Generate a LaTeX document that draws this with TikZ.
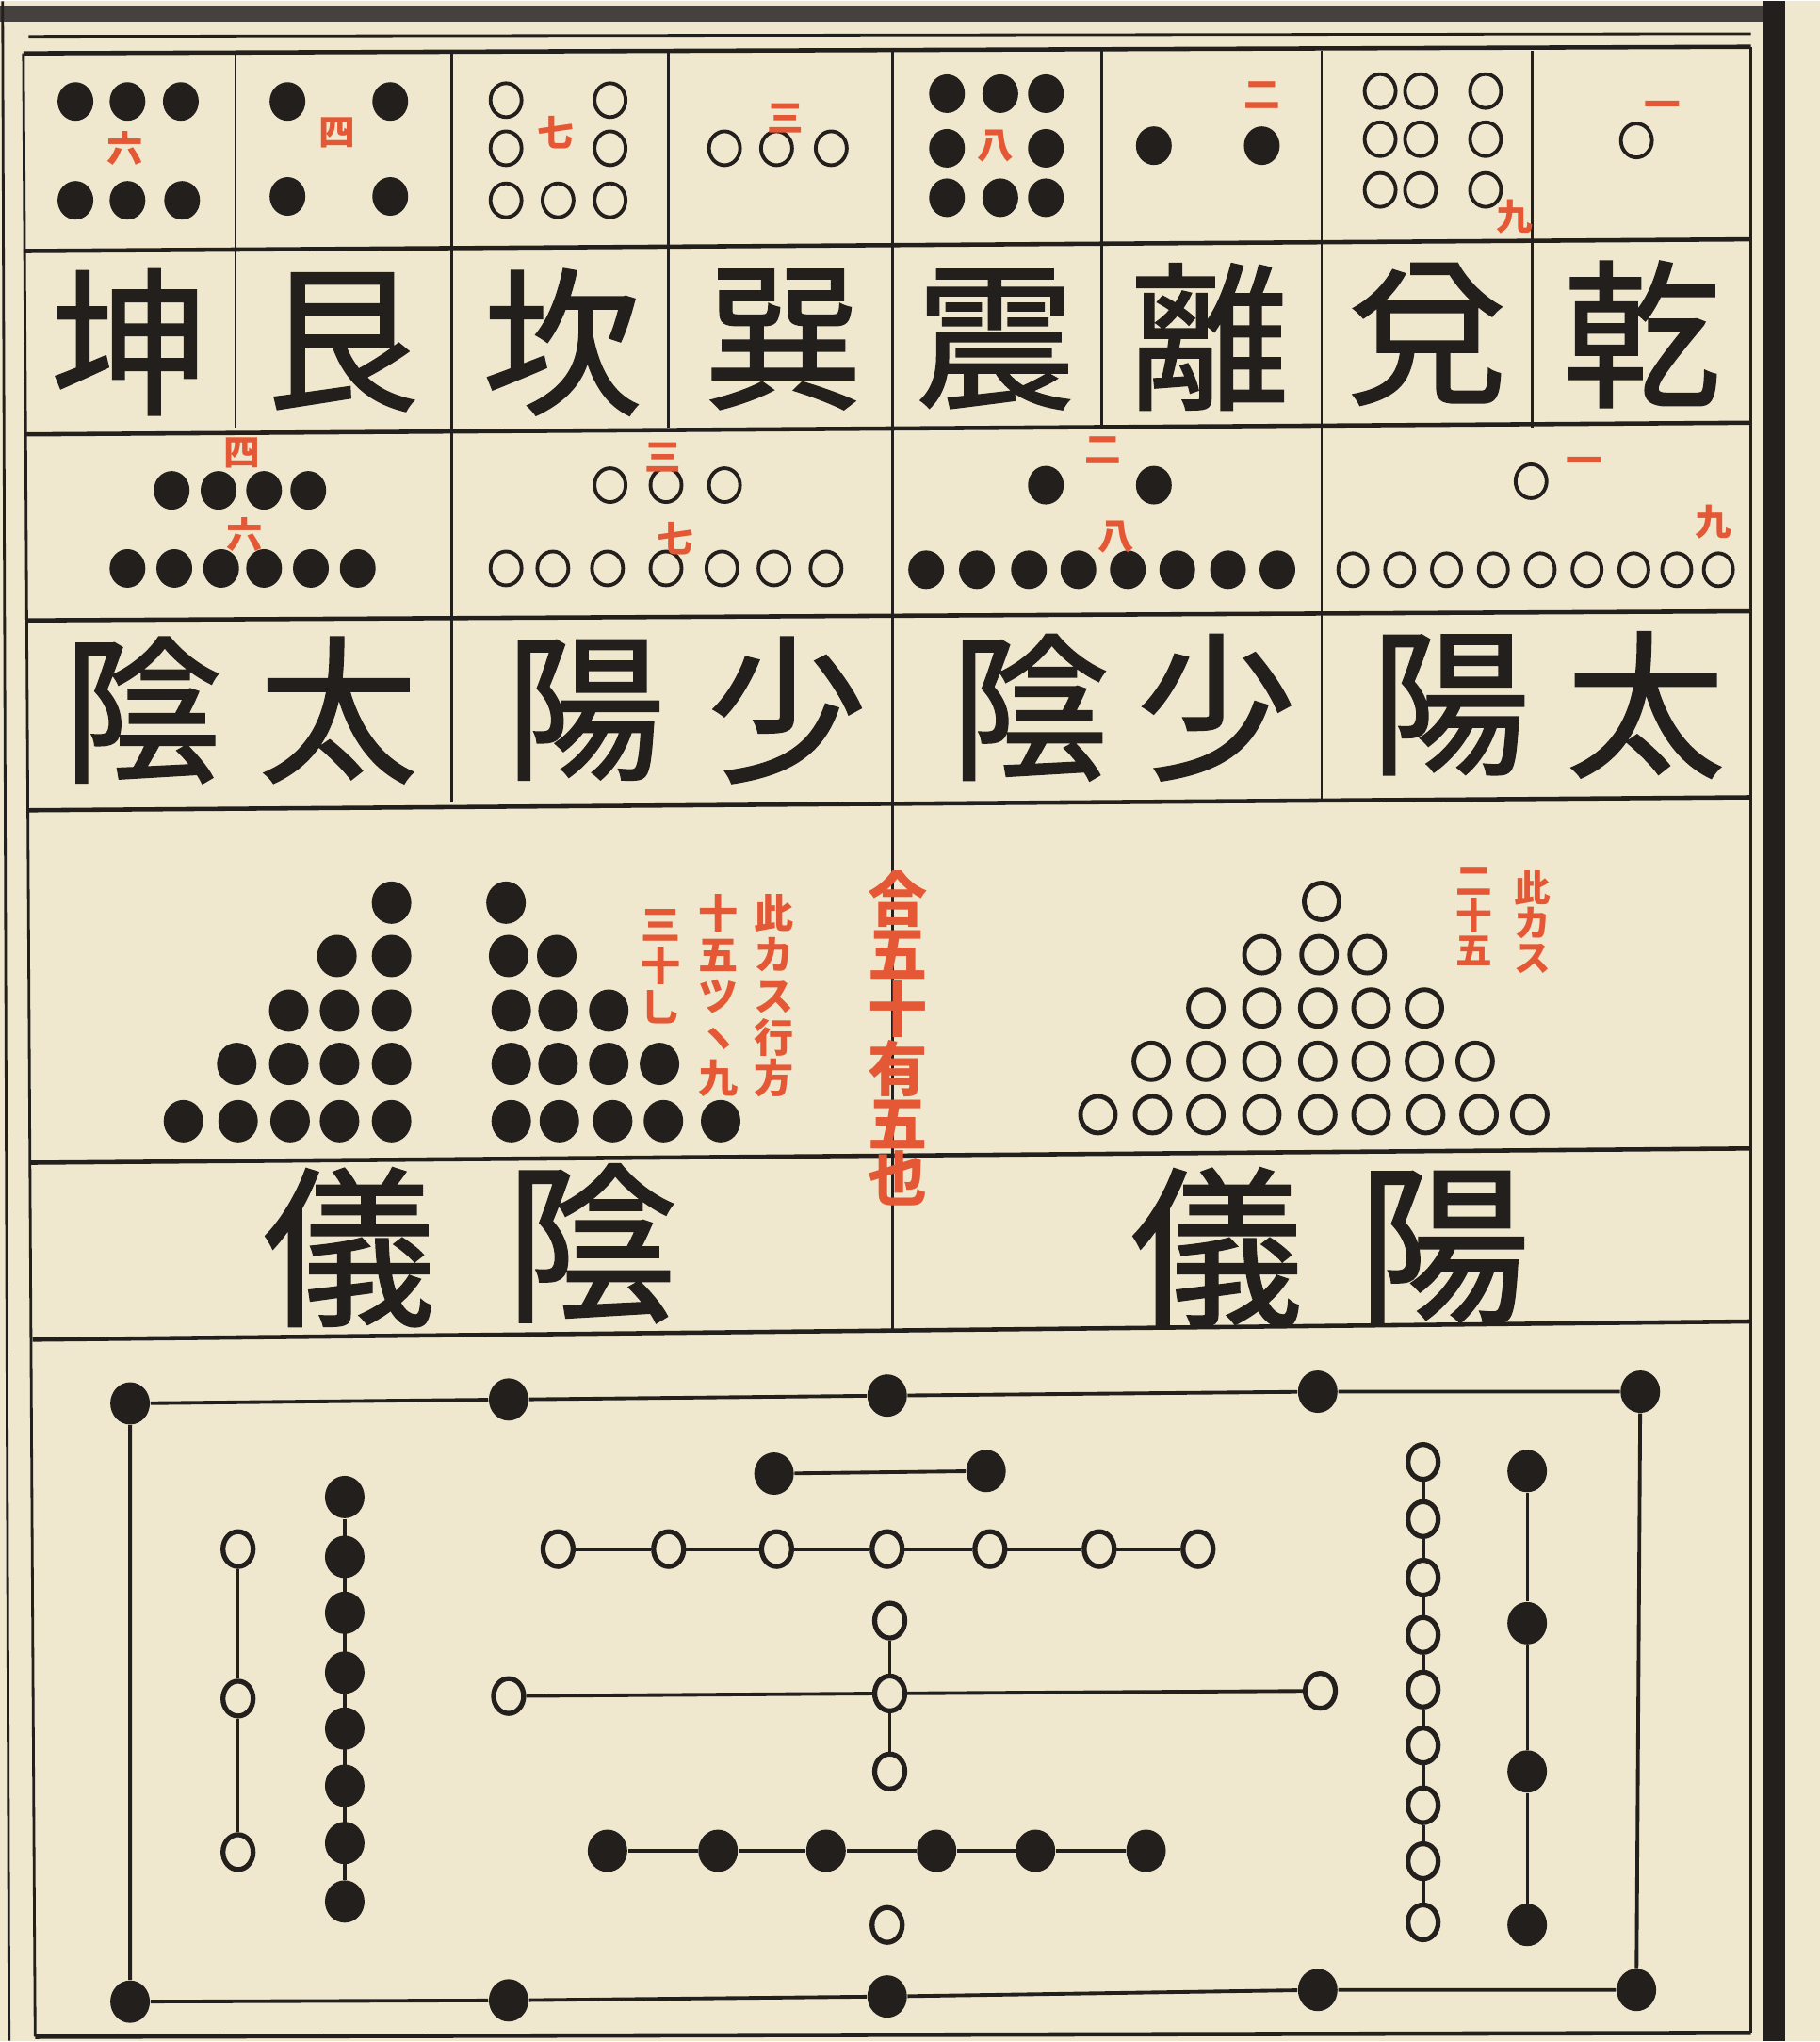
\documentclass[tikz,border=0pt]{standalone}
\usepackage{fontspec}
\newfontfamily\cjk{Noto Sans CJK JP}
\newfontfamily\cjkfat[FakeBold=1.3]{Noto Sans CJK JP}
\usetikzlibrary{shapes.geometric}
\definecolor{paper}{RGB}{240,232,206}
\definecolor{ink}{RGB}{35,31,29}
\definecolor{redink}{RGB}{228,88,54}

\begin{document}
\begin{tikzpicture}[x=0.01383cm, y=-0.01383cm]
    \tikzstyle{yin} = [ellipse, fill=ink, inner sep=0pt, minimum width=0.38cm,
        minimum height=0.41cm]
    \tikzstyle{yang} = [ellipse, draw=ink, line width=1.1pt, inner sep=0pt,
        minimum width=0.33cm, minimum height=0.36cm]
    \tikzstyle{bigyin} = [yin, minimum width=0.42cm, minimum height=0.45cm]
    \tikzstyle{bigyang} = [yang, line width=1.4pt, minimum width=0.37cm,
        minimum height=0.39cm]
    \tikzstyle{ring} = [yang, line width=1.5pt, minimum width=0.32cm,
        minimum height=0.37cm]
    \tikzstyle{gua} = [inner sep=0pt, text=ink,
        font=\cjkfat\fontsize{48}{48}\selectfont]
    \tikzstyle{biggua} = [gua, font=\cjkfat\fontsize{52}{52}\selectfont]
    \tikzstyle{numeral} = [inner sep=0pt, text=redink,
        font=\cjk\bfseries\fontsize{11}{11}\selectfont]
    \tikzstyle{note} = [inner sep=0pt, text=redink, align=center, anchor=north,
        font=\cjk\bfseries\fontsize{12}{12.5}\selectfont]
    \tikzstyle{rule} = [draw=ink, line width=1.3pt]
    \tikzstyle{hair} = [draw=ink, line width=0.8pt]
    \tikzstyle{wire} = [draw=ink, line width=1.1pt]

    % paper and page border
    \fill[paper] (0,0) rectangle (1399,1568);
    \fill[ink!85] (0,3) rectangle (1372,16);
    \fill[ink] (1356,0) rectangle (1372,1568);
    \draw[hair] (2,0) -- (7,1568);
    \draw[hair] (22,27) -- (1346,25);

    % table
    \draw[rule] (18,40) -- (1346,35);
    \draw[rule] (18,192) -- (1346,183);
    \draw[rule] (19,333) -- (1346,324);
    \draw[rule] (20,476) -- (1346,469);
    \draw[rule] (21,622) -- (1346,612);
    \draw[rule] (24,893) -- (1346,882);
    \draw[rule] (25,1029) -- (1346,1015);
    \draw[rule] (27,1565) -- (1346,1562);
    \draw[hair] (18,40) -- (27,1565);
    \draw[hair] (1346,35) -- (1346,1562);
    \foreach \x in {181,347,514,686,847,1016,1178}
        \draw[hair] (\x,38) -- (\x,328);
    \foreach \x in {347,686,1016}
        \draw[hair] (\x,328) -- (\x,616);
    \draw[hair] (686,616) -- (686,1022);

    % eight trigrams
    \foreach \x [count=\i] in {58,98,139} \node[yin] (kun\i) at (\x,77) {};
    \foreach \x [count=\i from 4] in {58,98,140} \node[yin] (kun\i) at (\x,153) {};
    \node[yin] (gen1) at (221,77) {};
    \node[yin] (gen2) at (300,77) {};
    \node[yin] (gen3) at (221,150) {};
    \node[yin] (gen4) at (300,150) {};
    \node[yang] (kan1) at (389,76) {};
    \node[yang] (kan2) at (469,76) {};
    \node[yang] (kan3) at (389,113) {};
    \node[yang] (kan4) at (469,113) {};
    \foreach \x [count=\i from 5] in {389,429,469} \node[yang] (kan\i) at (\x,153) {};
    \foreach \x [count=\i] in {557,597,639} \node[yang] (xun\i) at (\x,113) {};
    \foreach \x [count=\i] in {728,769,804} \node[yin] (zhen\i) at (\x,71) {};
    \node[yin] (zhen4) at (728,113) {};
    \node[yin] (zhen5) at (804,113) {};
    \foreach \x [count=\i from 6] in {728,769,804} \node[yin] (zhen\i) at (\x,151) {};
    \node[yin] (li1) at (887,111) {};
    \node[yin] (li2) at (970,111) {};
    \foreach \x [count=\i] in {1061,1092,1142} {
        \node[yang] (duia\i) at (\x,69) {};
        \node[yang] (duib\i) at (\x,106) {};
        \node[yang] (duic\i) at (\x,145) {};
    }
    \node[yang] (qian1) at (1258,107) {};

    \node[numeral] (kunN) at (96,113) {六};
    \node[numeral] (genN) at (259,101) {四};
    \node[numeral] (kanN) at (427,101) {七};
    \node[numeral] (xunN) at (604,90) {三};
    \node[numeral] (zhenN) at (765,111) {八};
    \node[numeral] (liN) at (970,72) {二};
    \node[numeral] (duiN) at (1164,166) {九};
    \node[numeral] (qianN) at (1278,83) {一};

    \node[gua] (kun) at (100,262) {坤};
    \node[gua] (gen) at (263,262) {艮};
    \node[gua] (kan) at (432,262) {坎};
    \node[gua] (xun) at (602,260) {巽};
    \node[gua] (zhen) at (765,260) {震};
    \node[gua] (li) at (930,258) {離};
    \node[gua] (dui) at (1097,256) {兌};
    \node[gua] (qian) at (1262,256) {乾};

    % four images
    \foreach \x [count=\i] in {132,168,203,237} \node[yin] (tyina\i) at (\x,376) {};
    \foreach \x [count=\i] in {98,134,170,203,239,275} \node[yin] (tyinb\i) at (\x,436) {};
    \foreach \x [count=\i] in {469,512,557} \node[yang] (syanga\i) at (\x,372) {};
    \foreach \x [count=\i] in {389,425,467,512,555,595,635}
        \node[yang] (syangb\i) at (\x,436) {};
    \node[yin] (syina1) at (804,372) {};
    \node[yin] (syina2) at (887,372) {};
    \foreach \x [count=\i] in {712,751,791,829,867,905,944,982}
        \node[yin] (syinb\i) at (\x,437) {};
    \node[yang] (tyanga1) at (1177,369) {};
    \foreach \x [count=\i] in {1040,1076,1112,1148,1184,1220,1256,1289,1321}
        \node[yang, minimum width=0.31cm, minimum height=0.35cm] (tyangb\i) at (\x,437) {};

    \node[numeral] (tyinN1) at (186,347) {四};
    \node[numeral] (tyinN2) at (188,410) {六};
    \node[numeral] (syangN1) at (510,351) {三};
    \node[numeral] (syangN2) at (519,413) {七};
    \node[numeral] (syinN1) at (848,345) {二};
    \node[numeral] (syinN2) at (858,412) {八};
    \node[numeral] (tyangN1) at (1218,357) {一};
    \node[numeral] (tyangN2) at (1317,400) {九};

    \node[gua] (tyin1) at (110,545) {陰};
    \node[gua] (tyin2) at (260,545) {太};
    \node[gua] (syang1) at (450,545) {陽};
    \node[gua] (syang2) at (605,545) {少};
    \node[gua] (syin1) at (792,543) {陰};
    \node[gua] (syin2) at (935,543) {少};
    \node[gua] (tyang1) at (1115,541) {陽};
    \node[gua] (tyang2) at (1265,541) {太};

    % two modes
    \node[bigyin] (ya1) at (301,693) {};
    \foreach \x [count=\i from 2] in {259,301} \node[bigyin] (ya\i) at (\x,734) {};
    \foreach \x [count=\i from 4] in {222,261,301} \node[bigyin] (ya\i) at (\x,776) {};
    \foreach \x [count=\i from 7] in {182,222,261,301} \node[bigyin] (ya\i) at (\x,817) {};
    \foreach \x [count=\i from 11] in {141,183,223,261,301}
        \node[bigyin] (ya\i) at (\x,861) {};
    \node[bigyin] (yb1) at (389,693) {};
    \foreach \x [count=\i from 2] in {391,428} \node[bigyin] (yb\i) at (\x,734) {};
    \foreach \x [count=\i from 4] in {393,429,468} \node[bigyin] (yb\i) at (\x,776) {};
    \foreach \x [count=\i from 7] in {393,429,468,507} \node[bigyin] (yb\i) at (\x,817) {};
    \foreach \x [count=\i from 11] in {393,430,471,510,554}
        \node[bigyin] (yb\i) at (\x,861) {};

    \node[bigyang] (yg1) at (1016,692) {};
    \foreach \x [count=\i from 2] in {970,1014,1051} \node[bigyang] (yg\i) at (\x,733) {};
    \foreach \x [count=\i from 5] in {927,970,1013,1054,1095}
        \node[bigyang] (yg\i) at (\x,774) {};
    \foreach \x [count=\i from 10] in {885,927,970,1013,1054,1095,1134}
        \node[bigyang] (yg\i) at (\x,815) {};
    \foreach \x [count=\i from 17] in {844,886,927,970,1013,1054,1096,1137,1176}
        \node[bigyang] (yg\i) at (\x,856) {};

    \node[note] (yinnoteA) at (595,686) {此\\カ\\ス\\行\\方};
    \node[note] (yinnoteB) at (552,686) {十\\五\\ツ\\ヽ\\九};
    \node[note] (yinnoteC) at (508,698) {三\\十\\乚};
    \node[note, font=\cjk\bfseries\fontsize{11}{10.6}\selectfont] (yangnoteA)
        at (1178,668) {此\\カ\\ス};
    \node[note, font=\cjk\bfseries\fontsize{11}{10.6}\selectfont] (yangnoteB)
        at (1133,666) {二\\十\\五};
    \node[note, font=\cjk\bfseries\fontsize{18}{16.6}\selectfont] (total)
        at (690,668) {合\\五\\十\\有\\五\\也};

    \node[biggua] (yiyin1) at (268,958) {儀};
    \node[biggua] (yiyin2) at (455,955) {陰};
    \node[biggua] (yiyang1) at (935,958) {儀};
    \node[biggua] (yiyang2) at (1110,958) {陽};

    % river chart
    \foreach \x/\y [count=\i] in {100/1078,391/1075,682/1072,1013/1069,1261/1069}
        \node[bigyin] (t\i) at (\x,\y) {};
    \foreach \x/\y [count=\i] in {100/1538,391/1537,682/1534,1013/1529,1258/1529}
        \node[bigyin] (b\i) at (\x,\y) {};
    \draw[wire] (t1) -- (t2) -- (t3) -- (t4) -- (t5) -- (b5) -- (b4) -- (b3)
        -- (b2) -- (b1) -- (t1);

    \node[bigyin] (s1) at (595,1132) {};
    \node[bigyin] (s2) at (758,1130) {};
    \draw[wire] (s1) -- (s2);
    \foreach \x [count=\i] in {429,514,597,682,761,845,921} \node[ring] (h\i) at (\x,1190) {};
    \draw[wire] (h1) -- (h2) -- (h3) -- (h4) -- (h5) -- (h6) -- (h7);

    \node[ring] (c) at (684,1301) {};
    \node[ring] (cu) at (684,1245) {};
    \node[ring] (cd) at (684,1361) {};
    \node[ring] (cl) at (391,1303) {};
    \node[ring] (cr) at (1015,1299) {};
    \draw[wire] (cl) -- (c) -- (cr);
    \draw[wire] (cu) -- (c) -- (cd);

    \foreach \x [count=\i] in {467,552,635,720,796,881} \node[bigyin] (f\i) at (\x,1422) {};
    \draw[wire] (f1) -- (f2) -- (f3) -- (f4) -- (f5) -- (f6);
    \node[ring] (n) at (682,1479) {};

    \foreach \y [count=\i] in {1190,1305,1423} \node[ring] (e\i) at (183,\y) {};
    \draw[hair] (e1) -- (e2) -- (e3);
    \foreach \y [count=\i] in {1150,1196,1239,1285,1328,1372,1416,1461}
        \node[bigyin] (g\i) at (265,\y) {};
    \draw[wire] (g1) -- (g8);

    \foreach \y [count=\i] in {1123,1167,1212,1256,1298,1341,1387,1430,1477}
        \node[ring] (w\i) at (1094,\y) {};
    \draw[wire] (w1) -- (w2) -- (w3) -- (w4) -- (w5) -- (w6) -- (w7) -- (w8) -- (w9);
    \foreach \y [count=\i] in {1130,1247,1361,1479} \node[bigyin] (v\i) at (1174,\y) {};
    \draw[hair] (v1) -- (v2) -- (v3) -- (v4);
\end{tikzpicture}
\end{document}
